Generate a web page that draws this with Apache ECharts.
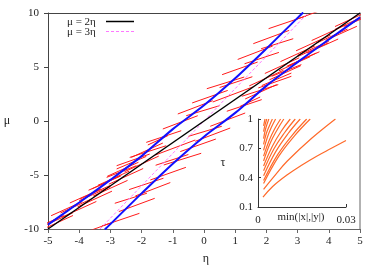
<!DOCTYPE html>
<html><head><meta charset="utf-8">
<script src="https://cdn.jsdelivr.net/npm/echarts@6/dist/echarts.min.js"></script>
<style>html,body{margin:0;padding:0;background:#fff}#c{width:380px;height:266px}</style>
</head><body><div id="c"></div>
<script>
// ---- main panel data ----
const line2Eta = [-5, 5];
const line2Mu = [-10, 10];
const line3Eta = [-3.3333, 3.3333];
const line3Mu = [-10, 10];
const blueUpperEta = [-5, -4, -3, -2, -1, 0, 1, 2, 3, 3.18];
const blueUpperMu = [-9.6, -7.55, -5.45, -3.25, -0.75, 1.45, 3.95, 6.7, 9.55, 10.05];
const blueLowerEta = [-3.18, -3, -2, -1, 0, 1, 2, 3, 4, 5];
const blueLowerMu = [-10.05, -9.55, -6.7, -3.95, -1.45, 0.75, 3.25, 5.45, 7.55, 9.6];
// red segments: start (eta, mu) -> end (eta, mu)
const segEta0 = [2.07,2.9,1.58,1.83,1.08,1.3,0.58,0.5,0.09,-0.38,0.28,-0.84,-0.57,-1.32,-1.85,-2.38,-2.8,
  -1.8,-2.33,-2.8,-3.12,-3.6,-3.98,-5.5,-5.2,-4.9,-4.6,-4.3,-4.0,-3.7,-3.4,-3.1,
  -4.55,-4.05,-3.55,-3.05,-2.55,-5.3,
  -3.27,-3.7,-2.73,-2.86,-2.2,-2.4,-1.72,-1.55,-1.29,-0.76,-1.56,-0.28,-0.5,0.2,0.73,1.21,1.74,
  1.16,1.32,1.85,2.17,2.65,3.02,4.5,4.2,3.9,3.6,3.3,3.0,2.7,2.4,2.1,
  3.45,2.95,2.45,1.95,1.45,4.2];
const segMu0 = [8.55,9.35,7.16,6.69,5.7,5.3,4.29,3.1,2.99,1.67,1.76,0.65,0.49,-0.74,-1.98,-3.37,-4.14,
  -2.22,-3.37,-4.44,-5.22,-6.3,-7.22,-10.05,-9.79,-8.77,-8.51,-7.59,-7.38,-6.41,-5.95,-5.12,
  -8.9,-7.95,-6.95,-5.85,-4.7,-10.2,
  -9.72,-10.2,-8.39,-7.62,-6.94,-6.35,-5.46,-4.1,-4.07,-2.83,-3.15,-1.88,-1.42,-0.49,0.9,2.29,3.06,
  1.36,2.04,3.28,4.14,5.06,5.99,8.75,8.49,7.47,7.21,6.29,6.08,5.11,4.65,3.82,
  7.45,6.5,5.5,4.4,3.25,8.75];
const segEta1 = [3.27,3.7,2.73,2.86,2.2,2.4,1.72,1.55,1.29,0.76,1.56,0.28,0.5,-0.2,-0.73,-1.21,-1.74,
  -1.16,-1.32,-1.85,-2.17,-2.65,-3.02,-4.5,-4.2,-3.9,-3.6,-3.3,-3.0,-2.7,-2.4,-2.1,
  -3.45,-2.95,-2.45,-1.95,-1.45,-4.2,
  -2.07,-2.9,-1.58,-1.83,-1.08,-1.3,-0.58,-0.5,-0.09,0.38,-0.28,0.84,0.57,1.32,1.85,2.38,2.8,
  1.8,2.33,2.8,3.12,3.6,3.98,5.5,5.2,4.9,4.6,4.3,4.0,3.7,3.4,3.1,
  4.55,4.05,3.55,3.05,2.55,5.3];
const segMu1 = [9.72,10.2,8.39,7.62,6.94,6.35,5.46,4.1,4.07,2.83,3.15,1.88,1.42,0.49,-0.9,-2.29,-3.06,
  -1.36,-2.04,-3.28,-4.14,-5.06,-5.99,-8.75,-8.49,-7.47,-7.21,-6.29,-6.08,-5.11,-4.65,-3.82,
  -7.45,-6.5,-5.5,-4.4,-3.25,-8.75,
  -8.55,-9.35,-7.16,-6.69,-5.7,-5.3,-4.29,-3.1,-2.99,-1.67,-1.76,-0.65,-0.49,0.74,1.98,3.37,4.14,
  2.22,3.37,4.44,5.22,6.3,7.22,10.05,9.79,8.77,8.51,7.59,7.38,6.41,5.95,5.12,
  8.9,7.95,6.95,5.85,4.7,10.2];
const etaTicks = [-5, -4, -3, -2, -1, 0, 1, 2, 3, 4, 5];
const muTicks = [-10, -5, 0, 5, 10];
const legendNames = ['μ = 2η', 'μ = 3η'];

// ---- inset data: min(|x|,|y|) vs tau ----
const insetV = [
  [0.0017,0.005,0.01,0.015,0.02,0.025,0.03],
  [0.0019,0.006,0.01,0.0182,0.0264],
  [0.0019,0.0071,0.0125,0.0178],
  [0.0019,0.0067,0.0117,0.0166],
  [0.0019,0.006,0.0102,0.0144],
  [0.0019,0.0054,0.0091,0.0127],
  [0.0019,0.0049,0.0079,0.011],
  [0.0019,0.0041,0.0065,0.0088],
  [0.0019,0.0038,0.0057,0.0077],
  [0.0019,0.0032,0.0046,0.006],
  [0.0019,0.0028,0.0039,0.0049],
  [0.0019,0.0026,0.0037],
  [0.0019,0.0024,0.003],
  [0.0019,0.0024]
];
const insetTau = [
  [0.2,0.31,0.43,0.53,0.62,0.7,0.78],
  [0.28,0.43,0.57,0.8,1.0],
  [0.34,0.62,0.83,1],
  [0.37,0.635,0.836,1],
  [0.42,0.664,0.849,1],
  [0.47,0.693,0.862,1],
  [0.52,0.722,0.875,1],
  [0.57,0.75,0.888,1],
  [0.62,0.78,0.9,1],
  [0.68,0.814,0.917,1],
  [0.74,0.849,0.932,1],
  [0.8,0.9,1],
  [0.87,0.94,1],
  [0.93,1]
];
const insetXTicks = [0, 0.03];
const insetYTicks = [0.1, 0.4, 0.7, 1];

const serif = '"Liberation Serif", "DejaVu Serif", serif';
const zip = (a, b) => a.map((v, i) => [v, b[i]]);
const BLACK = '#000', PINK = '#ff77ff';

const series = [];
segEta0.forEach((x0, i) => {
  series.push({
    type: 'line', xAxisIndex: 0, yAxisIndex: 0, symbol: 'none', silent: true, clip: true,
    data: [[x0, segMu0[i]], [segEta1[i], segMu1[i]]],
    lineStyle: { color: '#ff1a1a', width: 1 }, z: 2
  });
});
series.push({
  name: legendNames[1], type: 'line', xAxisIndex: 0, yAxisIndex: 0, symbol: 'none', clip: true,
  data: zip(line3Eta, line3Mu), lineStyle: { color: PINK, width: 1, type: [3, 2] }, z: 3
});
series.push({
  name: legendNames[0], type: 'line', xAxisIndex: 0, yAxisIndex: 0, symbol: 'none', clip: true,
  data: zip(line2Eta, line2Mu), lineStyle: { color: BLACK, width: 1.5 }, z: 4
});
series.push({
  type: 'line', xAxisIndex: 0, yAxisIndex: 0, symbol: 'none', clip: true, smooth: 0.3,
  data: zip(blueUpperEta, blueUpperMu), lineStyle: { color: '#1010ff', width: 2 }, z: 5
});
series.push({
  type: 'line', xAxisIndex: 0, yAxisIndex: 0, symbol: 'none', clip: true, smooth: 0.3,
  data: zip(blueLowerEta, blueLowerMu), lineStyle: { color: '#1010ff', width: 2 }, z: 5
});
insetV.forEach((vs, i) => {
  series.push({
    type: 'line', xAxisIndex: 2, yAxisIndex: 2, symbol: 'none', silent: true, clip: true, smooth: 0.4,
    data: zip(vs, insetTau[i]), lineStyle: { color: '#ff6a2a', width: 1.2 }, z: 6
  });
});

const txt = (x, y, t, size, align) => ({ type: 'text', x, y, z: 10,
  style: { text: t, fontFamily: serif, fontSize: size, fill: '#222', align: align || 'center', verticalAlign: 'middle' } });

const chart = echarts.init(document.getElementById('c'), null, { renderer: 'canvas' });
chart.setOption({
  animation: false,
  backgroundColor: '#fff',
  grid: [
    { left: 48, top: 13, width: 312, height: 216 },
    { left: 258, top: 119, width: 88, height: 88 }
  ],
  xAxis: [
    { gridIndex: 0, type: 'value', min: etaTicks[0], max: etaTicks[etaTicks.length - 1], interval: 1,
      axisLine: { onZero: false, lineStyle: { color: '#666', width: 1 } },
      axisTick: { inside: false, length: 4, lineStyle: { color: '#666' } },
      axisLabel: { fontFamily: serif, fontSize: 11, color: '#222', margin: 7 },
      splitLine: { show: false } },
    { gridIndex: 0, type: 'value', position: 'top', min: -5, max: 5,
      axisLine: { show: true, onZero: false, lineStyle: { color: '#444' } }, axisTick: { show: false },
      axisLabel: { show: false }, splitLine: { show: false } },
    { gridIndex: 1, type: 'value', min: 0, max: 0.03,
      axisLine: { onZero: false, lineStyle: { color: '#333' } },
      axisTick: { inside: true, length: 3, customValues: insetXTicks, lineStyle: { color: '#333' } },
      axisLabel: { customValues: insetXTicks, fontFamily: serif, fontSize: 11, color: '#222', margin: 8 },
      splitLine: { show: false } }
  ],
  yAxis: [
    { gridIndex: 0, type: 'value', min: muTicks[0], max: muTicks[muTicks.length - 1], interval: 5,
      axisLine: { show: true, onZero: false, lineStyle: { color: '#444' } },
      axisTick: { show: true, inside: false, length: 4, lineStyle: { color: '#444' } },
      axisLabel: { fontFamily: serif, fontSize: 11, color: '#222', margin: 9 },
      splitLine: { show: false } },
    { gridIndex: 0, type: 'value', position: 'right', min: -10, max: 10,
      axisLine: { show: true, onZero: false, lineStyle: { color: '#999', width: 1.5 } }, axisTick: { show: false },
      axisLabel: { show: false }, splitLine: { show: false } },
    { gridIndex: 1, type: 'value', min: 0.1, max: 1,
      axisLine: { show: true, onZero: false, lineStyle: { color: '#333' } },
      axisTick: { show: true, inside: true, length: 3, customValues: insetYTicks, lineStyle: { color: '#333' } },
      axisLabel: { customValues: insetYTicks, fontFamily: serif, fontSize: 11, color: '#222', margin: 5 },
      splitLine: { show: false } }
  ],
  graphic: [
    txt(7, 121, 'μ', 12),
    txt(206, 259, 'η', 12),
    txt(223, 163, 'τ', 12),
    txt(301, 217, 'min(|x|,|y|)', 11),
    txt(67, 22, legendNames[0], 11, 'left'),
    txt(67, 32, legendNames[1], 11, 'left'),
    { type: 'line', z: 10, shape: { x1: 106, y1: 21.5, x2: 134, y2: 21.5 }, style: { stroke: BLACK, lineWidth: 1.5 } },
    { type: 'line', z: 10, shape: { x1: 106, y1: 31.5, x2: 134, y2: 31.5 }, style: { stroke: PINK, lineWidth: 1, lineDash: [3, 2] } }
  ],
  series: series
});
</script>
</body></html>
